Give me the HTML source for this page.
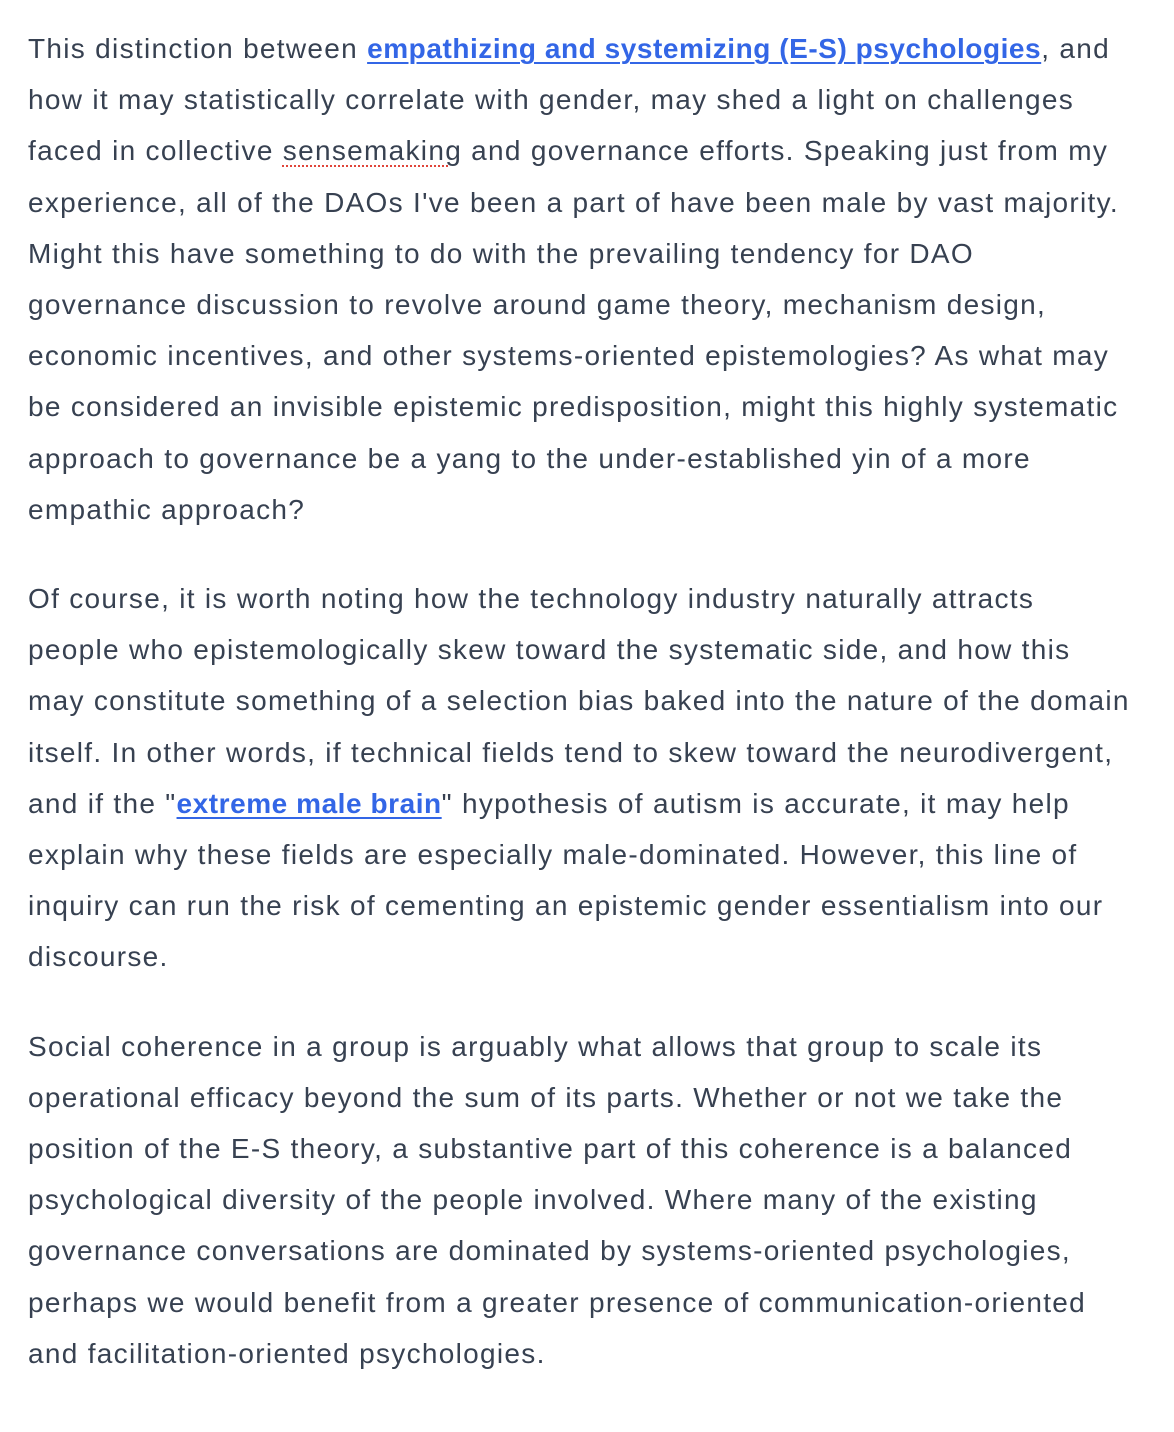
<!DOCTYPE html>
<html>
<head>
<meta charset="utf-8">
<style>
  html,body{margin:0;padding:0;background:#fff;}
  body{width:1174px;height:1432px;overflow:hidden;}
  .article{padding:23px 0 0 28px;font-family:"Liberation Sans",sans-serif;font-size:28px;line-height:51.2px;color:#374151;letter-spacing:1.3px;}
  p{margin:0 0 38px 0;white-space:nowrap;}
  a{color:#3366e6;font-weight:bold;text-decoration:underline;text-underline-offset:4px;text-decoration-thickness:2px;letter-spacing:0.55px;}
  .spell{text-decoration:underline dotted #e0453a;text-underline-offset:5px;text-decoration-thickness:2px;}
</style>
</head>
<body>
<div class="article">
<p>This distinction between <a href="#">empathizing and systemizing (E-S) psychologies</a>, and<br>how it may statistically correlate with gender, may shed a light on challenges<br>faced in collective <span class="spell">sensemaking</span> and governance efforts. Speaking just from my<br>experience, all of the DAOs I've been a part of have been male by vast majority.<br>Might this have something to do with the prevailing tendency for DAO<br>governance discussion to revolve around game theory, mechanism design,<br>economic incentives, and other systems-oriented epistemologies? As what may<br>be considered an invisible epistemic predisposition, might this highly systematic<br>approach to governance be a yang to the under-established yin of a more<br>empathic approach?</p>
<p>Of course, it is worth noting how the technology industry naturally attracts<br>people who epistemologically skew toward the systematic side, and how this<br>may constitute something of a selection bias baked into the nature of the domain<br>itself. In other words, if technical fields tend to skew toward the neurodivergent,<br>and if the "<a href="#">extreme male brain</a>" hypothesis of autism is accurate, it may help<br>explain why these fields are especially male-dominated. However, this line of<br>inquiry can run the risk of cementing an epistemic gender essentialism into our<br>discourse.</p>
<p>Social coherence in a group is arguably what allows that group to scale its<br>operational efficacy beyond the sum of its parts. Whether or not we take the<br>position of the E-S theory, a substantive part of this coherence is a balanced<br>psychological diversity of the people involved. Where many of the existing<br>governance conversations are dominated by systems-oriented psychologies,<br>perhaps we would benefit from a greater presence of communication-oriented<br>and facilitation-oriented psychologies.</p>
</div>
</body>
</html>
